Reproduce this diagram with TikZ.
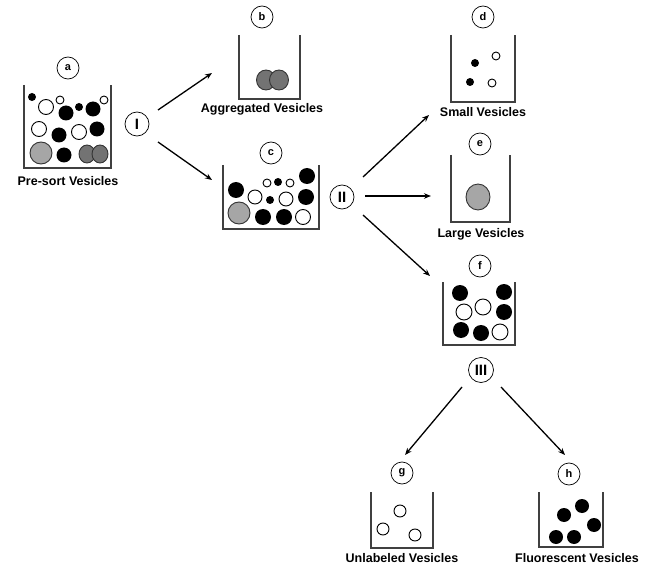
\documentclass[tikz,border=0pt]{standalone}
\usepackage{fontspec}
\setmainfont{Liberation Sans}
\usetikzlibrary{arrows.meta}
\begin{document}
\begin{tikzpicture}[x=1pt,y=-1pt,
  box/.style={draw=black!75,line width=1.3pt},
  lbl/.style={circle,draw=black,line width=0.7pt,minimum size=22pt,inner sep=0pt,font=\bfseries\fontsize{11}{13}\selectfont},
  rom/.style={circle,draw=black,line width=0.7pt,minimum size=24pt,inner sep=0pt,font=\bfseries\fontsize{15}{17}\selectfont},
  captxt/.style={font=\bfseries\fontsize{12.5}{14}\selectfont},
  arr/.style={line width=1.3pt,-{Stealth[length=7pt,width=5.5pt]}},
  bk/.style={fill=black},
  wh/.style={draw=black,line width=0.9pt,fill=white},
  lgr/.style={draw=black!80,line width=0.9pt,fill=black!35},
  dgr/.style={draw=black!80,line width=0.9pt,fill=black!55}]
\useasboundingbox (0,0) rectangle (651,567);
% ---- container a
\node[lbl] (la) at (68,68) {a};
\draw[box] (24,85) -- (24,168) -- (111,168) -- (111,85);
\fill[bk] (32,97) circle (4);
\draw[wh] (46,107) circle (7.5);
\draw[wh] (60,100) circle (4);
\fill[bk] (66,113) circle (7.5);
\fill[bk] (79,107) circle (4);
\fill[bk] (93,109) circle (7.5);
\draw[wh] (104,100) circle (4);
\draw[wh] (39,129) circle (7.5);
\fill[bk] (59,135) circle (7.5);
\draw[wh] (79,132) circle (7.5);
\fill[bk] (97,129) circle (7.5);
\draw[lgr] (41,153) circle (11);
\fill[bk] (64,155) circle (7.5);
\draw[dgr] (87,154) ellipse (8 and 9);
\draw[dgr] (100,154) ellipse (8 and 9);
\node[captxt] (ta) at (68,181) {Pre-sort Vesicles};
% ---- I
\node[rom] (I) at (137,124) {I};
% ---- container b
\node[lbl] (lb) at (262,17) {b};
\draw[box] (239,35) -- (239,99) -- (300,99) -- (300,35);
\draw[dgr] (266,80) ellipse (9.5 and 10);
\draw[dgr] (279,80) ellipse (9.5 and 10);
\node[captxt] (tb) at (262,109) {Aggregated Vesicles};
% ---- container c
\node[lbl] (lc) at (271,153) {c};
\draw[box] (223,165) -- (223,229) -- (319,229) -- (319,165);
\fill[bk] (236,190) circle (8);
\draw[wh] (255,197) circle (7);
\draw[wh] (267,183) circle (4);
\fill[bk] (278,182) circle (4);
\draw[wh] (290,183) circle (4);
\fill[bk] (307,176) circle (8);
\fill[bk] (270,200) circle (4);
\draw[wh] (286,199) circle (7);
\fill[bk] (306,197) circle (8);
\draw[lgr] (239,213) circle (11);
\fill[bk] (263,217) circle (8);
\fill[bk] (284,217) circle (8);
\draw[wh] (303,217) circle (7.5);
% ---- II
\node[rom] (II) at (342,197) {II};
% ---- container d
\node[lbl] (ld) at (483,17) {d};
\draw[box] (451,35) -- (451,102) -- (515,102) -- (515,35);
\fill[bk] (475,63) circle (4);
\draw[wh] (496,56) circle (4);
\fill[bk] (470,82) circle (4);
\draw[wh] (492,83) circle (4);
\node[captxt] (td) at (483,112) {Small Vesicles};
% ---- container e
\node[lbl] (le) at (480,144) {e};
\draw[box] (451,155) -- (451,222) -- (510,222) -- (510,155);
\draw[lgr] (478,197) ellipse (12 and 13);
\node[captxt] (te) at (481,234) {Large Vesicles};
% ---- container f
\node[lbl] (lf) at (480,266) {f};
\draw[box] (443,282) -- (443,345) -- (515,345) -- (515,282);
\fill[bk] (460,293) circle (8);
\fill[bk] (504,292) circle (8);
\draw[wh] (464,312) circle (8);
\draw[wh] (483,307) circle (8);
\fill[bk] (504,312) circle (8);
\fill[bk] (461,330) circle (8);
\fill[bk] (481,333) circle (8);
\draw[wh] (500,332) circle (8);
% ---- III
\node[rom,minimum size=25pt] (III) at (481,370) {III};
% ---- container g
\node[lbl] (lg) at (402,473) {g};
\draw[box] (371,492) -- (371,548) -- (433,548) -- (433,492);
\draw[wh] (400,511) circle (6);
\draw[wh] (383,529) circle (6);
\draw[wh] (415,535) circle (6);
\node[captxt] (tg) at (402,558) {Unlabeled Vesicles};
% ---- container h
\node[lbl] (lh) at (569,474) {h};
\draw[box] (539,492) -- (539,547) -- (603,547) -- (603,492);
\fill[bk] (564,515) circle (7);
\fill[bk] (582,506) circle (7);
\fill[bk] (594,525) circle (7);
\fill[bk] (556,537) circle (7);
\fill[bk] (574,537) circle (7);
\node[captxt] (th) at (577,558) {Fluorescent Vesicles};
% ---- arrows
\coordinate (ib0) at (158,110); \coordinate (ib1) at (212,73);
\coordinate (ic0) at (158,142); \coordinate (ic1) at (212,180);
\coordinate (d0) at (363,177); \coordinate (d1) at (429,115);
\coordinate (e0) at (365,196); \coordinate (e1) at (431,196);
\coordinate (f0) at (363,215); \coordinate (f1) at (430,276);
\coordinate (g0) at (462,387); \coordinate (g1) at (405,455);
\coordinate (h0) at (501,387); \coordinate (h1) at (565,455);
\draw[arr] (ib0) -- (ib1);
\draw[arr] (ic0) -- (ic1);
\draw[arr] (d0) -- (d1);
\draw[arr] (e0) -- (e1);
\draw[arr] (f0) -- (f1);
\draw[arr] (g0) -- (g1);
\draw[arr] (h0) -- (h1);
\end{tikzpicture}
\end{document}
